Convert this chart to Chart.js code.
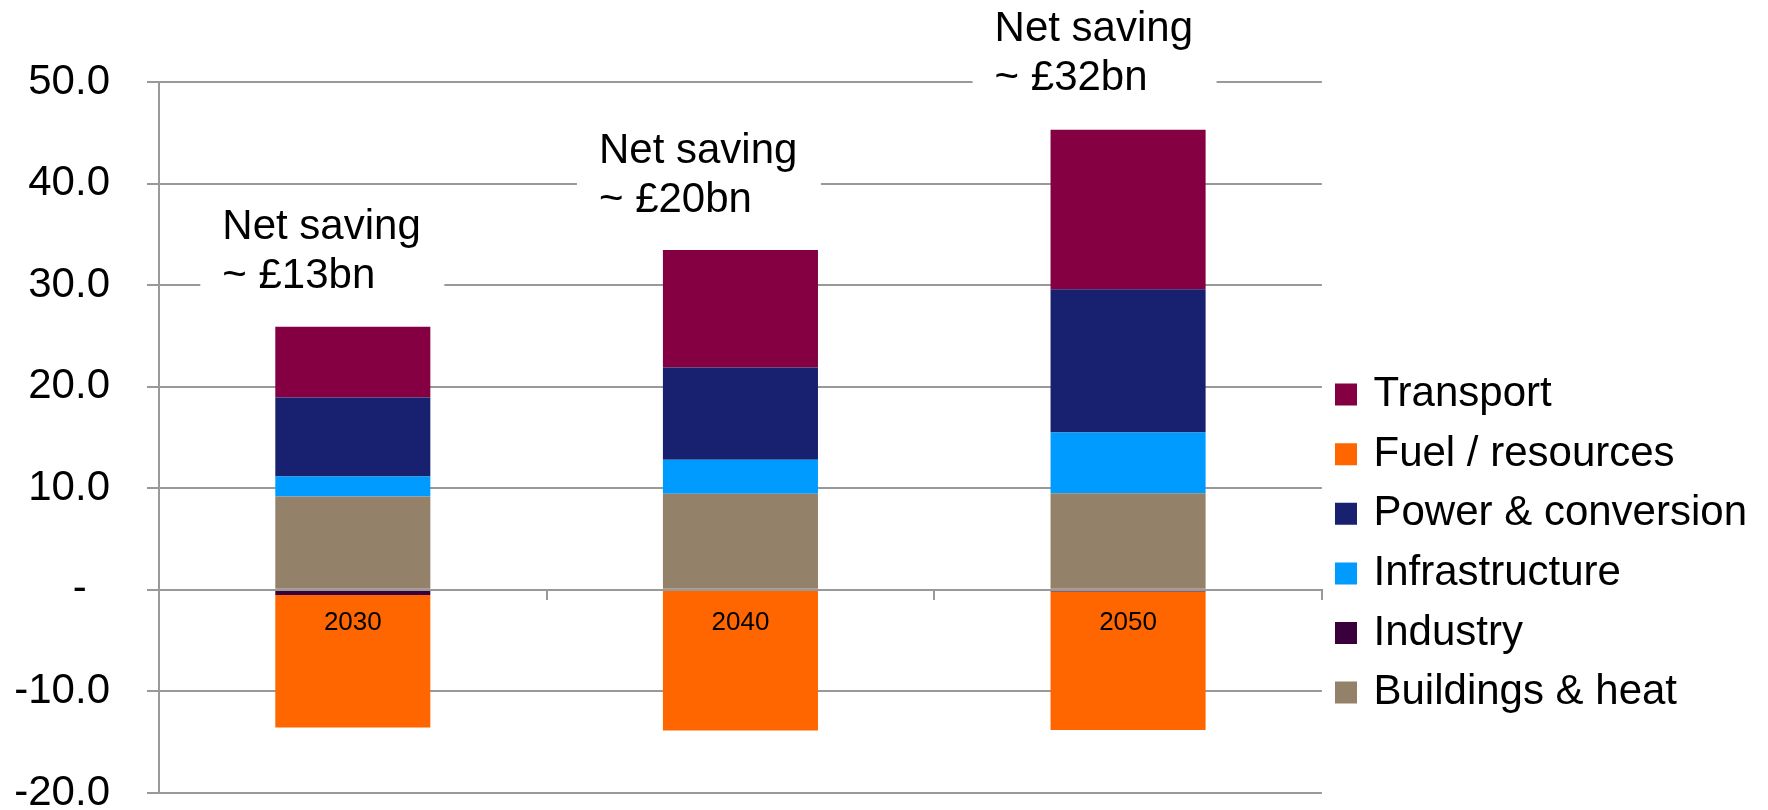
<!DOCTYPE html>
<html><head><meta charset="utf-8">
<script src="https://cdn.jsdelivr.net/npm/chart.js@4/dist/chart.umd.min.js"></script>
<style>html,body{margin:0;padding:0;background:#fff;} canvas{display:block;}</style>
</head><body>
<canvas id="c" width="1768" height="810"></canvas>
<script>
// ---- data ----
const categories = ['2030', '2040', '2050'];
const buildingsHeat   = [9.2, 9.45, 9.5];
const industry        = [-0.5, -0.05, -0.15];
const infrastructure  = [1.95, 3.35, 6.0];
const powerConversion = [7.8, 9.1, 14.1];
const fuelResources   = [-13.05, -13.8, -13.65];
const transport       = [6.95, 11.55, 15.7];
const netSavingLabels = ['~ £13bn', '~ £20bn', '~ £32bn'];
const netSavingTitle = 'Net saving';
const yMin = -20, yMax = 50, yStep = 10;

// ---- styles / layout ----
const FONT = '"Liberation Sans", Arial, Helvetica, sans-serif';
const GRID = '#999999';
const annot = { dx: [-130.5, -141.5, -133.5], baselineValue: [34.5, 42.0, 54.0], lineGap: 49 };

const netSavingPlugin = {
  id: 'netSaving',
  afterDraw(chart) {
    const { ctx } = chart;
    const x = chart.scales.x, y = chart.scales.y;
    ctx.save();
    ctx.font = '42px ' + FONT;
    ctx.textAlign = 'left';
    ctx.textBaseline = 'alphabetic';
    categories.forEach((c, i) => {
      const tx = x.getPixelForValue(i) + annot.dx[i];
      const b1 = y.getPixelForValue(annot.baselineValue[i]);
      const b2 = b1 + annot.lineGap;
      ctx.fillStyle = '#ffffff';
      ctx.fillRect(tx - 22, b1 - 38, 244, b2 - b1 + 50);
      ctx.fillStyle = '#000000';
      ctx.fillText(netSavingTitle, tx, b1);
      ctx.fillText(netSavingLabels[i], tx, b2);
    });
    ctx.restore();
  }
};

const datasets = [
  { label: 'Buildings & heat',   data: buildingsHeat,   backgroundColor: '#948169' },
  { label: 'Industry',           data: industry,        backgroundColor: '#3a003c' },
  { label: 'Infrastructure',     data: infrastructure,  backgroundColor: '#009bff' },
  { label: 'Power & conversion', data: powerConversion, backgroundColor: '#17216f' },
  { label: 'Fuel / resources',   data: fuelResources,   backgroundColor: '#ff6600' },
  { label: 'Transport',          data: transport,       backgroundColor: '#840042' }
];
datasets.forEach(d => { d.barPercentage = 0.4; d.categoryPercentage = 1.0; d.borderWidth = 0; });

new Chart(document.getElementById('c'), {
  type: 'bar',
  data: { labels: categories, datasets },
  plugins: [netSavingPlugin],
  options: {
    responsive: false,
    animation: false,
    devicePixelRatio: 1,
    layout: { padding: { left: 12, top: 82, right: 11, bottom: 17 } },
    plugins: {
      tooltip: { enabled: false },
      legend: {
        position: 'right',
        align: 'start',
        reverse: true,
        title: { display: true, text: ' ', font: { size: 10, lineHeight: 1 }, padding: { top: 264, bottom: 0 } },
        labels: {
          font: { family: FONT, size: 42 },
          color: '#000000',
          boxWidth: 13,
          boxHeight: 13,
          padding: 17.6,
          generateLabels(chart) {
            const items = Chart.defaults.plugins.legend.labels.generateLabels(chart);
            items.forEach(it => { it.lineWidth = 9; it.strokeStyle = it.fillStyle; });
            return items;
          }
        }
      }
    },
    scales: {
      x: {
        stacked: true,
        position: { y: 0 },
        grid: { drawOnChartArea: false, drawTicks: true, tickLength: 9, color: GRID, lineWidth: 2, offset: true },
        border: { display: true, color: GRID, width: 2, z: 1 },
        ticks: { font: { family: FONT, size: 26 }, color: '#000000', padding: 8, maxRotation: 0, z: 1 }
      },
      y: {
        stacked: true,
        min: yMin,
        max: yMax,
        ticks: {
          stepSize: yStep,
          font: { family: FONT, size: 42, lineHeight: 0.8 },
          color: '#000000',
          padding: 37,
          callback: (v) => (v === 0 ? '-  ' : Number(v).toFixed(1))
        },
        grid: { color: GRID, lineWidth: 2, tickLength: 12 },
        border: { color: GRID, width: 2 },
        afterFit(s) { s.width = 147; s.paddingTop = 0; s.paddingBottom = 0; }
      }
    }
  }
});
</script>
</body></html>
